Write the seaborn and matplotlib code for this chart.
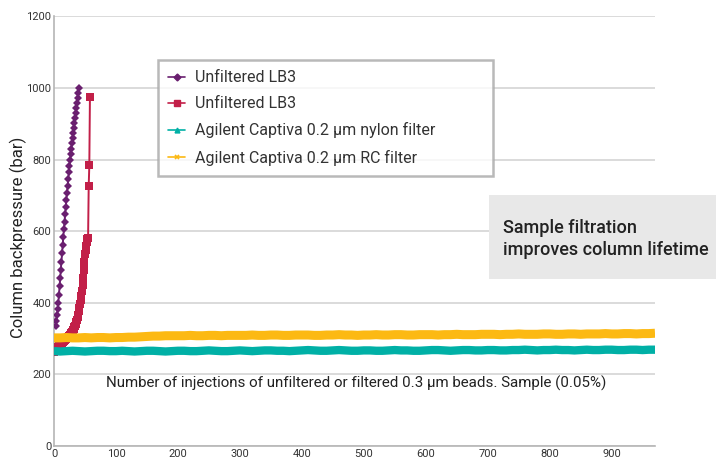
import numpy as np
import pandas as pd
import seaborn as sns
import matplotlib.pyplot as plt
from matplotlib.lines import Line2D
from matplotlib.patches import Rectangle

# purple series: unfiltered LB3 (first column)
purple_x = list(range(3, 41))
purple_y = [336, 350, 366, 382, 400, 423, 446, 469, 492, 515,
            538, 561, 584, 606, 627, 648, 668, 688, 708, 727,
            746, 764, 782, 800, 815, 830, 845, 860, 874, 888,
            902, 916, 930, 944, 958, 972, 986, 1000]

# red series: unfiltered LB3 (second column)
red_x = list(range(0, 59))
red_y = [262, 264, 266, 268, 270, 272, 274, 276, 278, 280,
         282, 284, 286, 288, 290, 292, 294, 296, 298, 299,
         300, 301, 302, 304, 306, 308, 310, 312, 315, 318,
         321, 324, 328, 332, 336, 341, 346, 352, 359, 367,
         376, 386, 396, 407, 420, 434,
         450, 470, 492, 515, 535, 548, 560, 570,
         577, 580, 726, 784, 975]

# filtered series, read every 10 injections
filt_x = list(range(0, 980, 10))
nylon_y = [265, 264, 265, 266, 265, 264, 265, 266, 266, 265,
           265, 266, 265, 264, 265, 266, 266, 265, 264, 265,
           266, 266, 265, 265, 266, 267, 266, 265, 265, 266,
           267, 266, 265, 266, 267, 267, 266, 266, 265, 266,
           267, 268, 267, 266, 266, 267, 268, 267, 266, 266,
           267, 267, 266, 266, 267, 268, 267, 267, 266, 266,
           267, 268, 268, 267, 266, 267, 268, 268, 267, 267,
           268, 268, 267, 267, 268, 268, 269, 268, 267, 268,
           268, 269, 268, 268, 267, 268, 269, 268, 268, 269,
           269, 268, 268, 269, 269, 268, 269, 269]
rc_y = [302, 302, 303, 302, 302, 303, 302, 303, 303, 302,
        303, 303, 304, 304, 305, 306, 307, 307, 308, 308,
        308, 308, 309, 308, 308, 309, 309, 308, 309, 309,
        309, 309, 310, 309, 309, 310, 310, 309, 309, 310,
        310, 310, 309, 309, 310, 310, 311, 310, 310, 309,
        310, 310, 311, 310, 310, 311, 311, 310, 310, 311,
        311, 311, 310, 311, 311, 312, 311, 311, 311, 312,
        312, 312, 311, 312, 312, 313, 312, 312, 312, 313,
        313, 312, 312, 313, 313, 312, 313, 313, 313, 314,
        313, 313, 314, 314, 313, 314, 314, 315]

labels = ["Unfiltered LB3", "Unfiltered LB3",
          "Agilent Captiva 0.2 µm nylon filter",
          "Agilent Captiva 0.2 µm RC filter"]
colors = ["#6a1f6f", "#c21f48", "#00b0a6", "#fcb913"]

x_ticks = list(range(0, 1000, 100))
y_ticks = list(range(0, 1400, 200))

sns.set_style("white")
plt.rcParams["font.family"] = ["Roboto", "DejaVu Sans"]

fig = plt.figure(figsize=(7.16, 4.61), dpi=100)
ax = fig.add_axes([54 / 716, 1 - 446 / 461, 601 / 716, 429.6 / 461])

df_p = pd.DataFrame({"x": purple_x, "y": purple_y})
df_r = pd.DataFrame({"x": red_x, "y": red_y})
df_n = pd.DataFrame({"x": filt_x, "y": nylon_y})
df_c = pd.DataFrame({"x": filt_x, "y": rc_y})

sns.lineplot(data=df_p, x="x", y="y", ax=ax, color=colors[0], lw=1.4,
             marker="D", markersize=3.8, markeredgewidth=0, sort=False, zorder=3)
sns.lineplot(data=df_r, x="x", y="y", ax=ax, color=colors[1], lw=1.4,
             marker="s", markersize=5.2, markeredgewidth=0, sort=False, zorder=3)
sns.lineplot(data=df_n, x="x", y="y", ax=ax, color=colors[2], lw=6,
             sort=False, zorder=4, solid_capstyle="butt")
sns.lineplot(data=df_c, x="x", y="y", ax=ax, color=colors[3], lw=6.5,
             sort=False, zorder=5, solid_capstyle="butt")

ax.set_xlim(0, 970)
ax.set_ylim(0, 1200)
ax.set_xticks(x_ticks)
ax.set_yticks(y_ticks)
ax.set_xlabel("")
ax.set_ylabel("")
ax.tick_params(axis="both", length=0, labelsize=8, colors="#333333", pad=2)
ax.grid(axis="y", color="#d4d4d4", lw=1.2)
ax.set_axisbelow(True)
for side in ["top", "right"]:
    ax.spines[side].set_visible(False)
for side in ["left", "bottom"]:
    ax.spines[side].set_color("#b5b5b5")
    ax.spines[side].set_linewidth(1.2)

handles = [
    Line2D([], [], color=colors[0], marker="D", markersize=3.5, lw=1.2),
    Line2D([], [], color=colors[1], marker="s", markersize=4, lw=1.2),
    Line2D([], [], color=colors[2], marker="^", markersize=3.5, lw=1.2),
    Line2D([], [], color=colors[3], marker="x", markersize=3.5, lw=1.2, mew=1.2),
]
leg = ax.legend(handles, labels, loc="upper left", mode="expand",
                bbox_to_anchor=(0.173, 0.628, 0.557, 0.270),
                frameon=True, fancybox=False, handlelength=1.1,
                handletextpad=0.6, labelspacing=0.7, borderpad=0.62,
                borderaxespad=0, prop={"size": 11.5})
leg.get_frame().set_edgecolor("#a8a8a8")
leg.get_frame().set_linewidth(1.8)
for t in leg.get_texts():
    t.set_color("#333333")

ax.text(0.5025, 0.1467,
        "Number of injections of unfiltered or filtered 0.3 µm beads. Sample (0.05%)",
        transform=ax.transAxes, ha="center", va="center", fontsize=10.9,
        color="#222222")

fig.text(18 / 716, 1 - 237 / 461, "Column backpressure (bar)", rotation=90,
         ha="center", va="center", fontsize=12, color="#222222")

fig.patches.append(Rectangle((489 / 716, 1 - 279 / 461), 1 - 489 / 716, 84 / 461,
                             transform=fig.transFigure, facecolor="#e8e8e8",
                             edgecolor="none", zorder=0))
fig.text(503 / 716, 1 - 239 / 461, "Sample filtration\nimproves column lifetime",
         ha="left", va="center", fontsize=13, fontweight="medium",
         color="#222222", linespacing=1.3)

fig.savefig("out.png", dpi=100)
